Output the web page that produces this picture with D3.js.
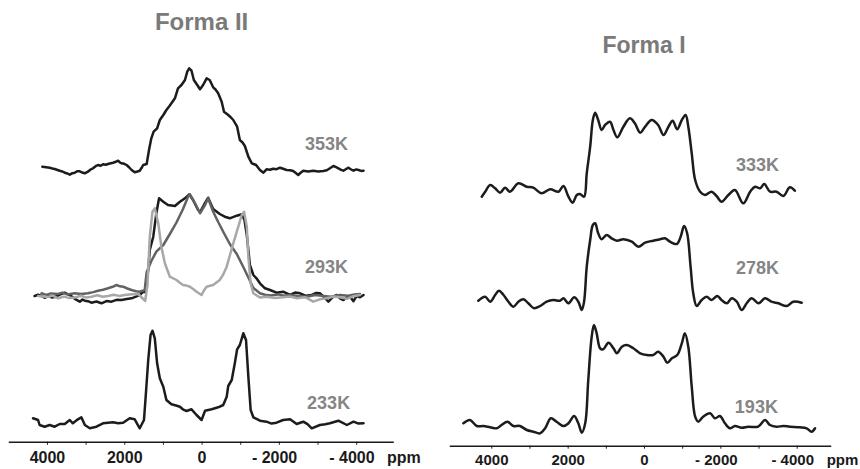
<!DOCTYPE html>
<html>
<head>
<meta charset="utf-8">
<script src="https://cdn.jsdelivr.net/npm/d3@7"></script>
<style>
  html, body { margin: 0; padding: 0; background: #fff; }
  svg { display: block; font-family: "Liberation Sans", Arial, Helvetica, sans-serif; }
</style>
</head>
<body>
<svg id="chart" width="860" height="469"></svg>
<script>
// Chemical-shift axis (ppm): minor ticks every 1000, labels every 2000
const tickPpm = [4000, 3000, 2000, 1000, 0, -1000, -2000, -3000, -4000];
const labelPpm = [4000, 2000, 0, -2000, -4000];
const axisUnit = "ppm";

const panelTitles = ["Forma II", "Forma I"];
const formaIITemps = ["353K", "293K", "233K"];
const formaITemps = ["333K", "278K", "193K"];

// Forma II spectra: [ppm, intensity]
const formaII_353K = [[4120,5.3],[4020,4.8],[3930,4.3],[3860,3.5],[3800,3],[3670,1.3],[3600,0.5],[3540,-0.7],[3470,-1.5],[3410,-2.7],[3340,-1.2],[3280,-0.7],[3220,0.8],[3150,0.7],[3090,-0.5],[3020,-1.3],[2940,0.3],[2870,2.5],[2810,3.7],[2740,5.8],[2680,7],[2610,6.3],[2550,7.7],[2480,7.2],[2420,8],[2350,8.8],[2290,9.3],[2220,10.2],[2160,11.3],[2110,9.5],[2070,8.7],[2000,8.2],[1940,7],[1870,4.5],[1810,2],[1730,-0.3],[1660,0.5],[1600,1.3],[1550,4.2],[1510,7],[1420,8],[1360,22],[1300,33.7],[1240,40.3],[1150,43.7],[1080,52],[990,57],[910,62],[840,65.5],[780,68.7],[690,73.7],[610,83.7],[520,87],[430,92],[370,100.3],[320,103.7],[260,101.3],[200,92],[130,88],[40,82.7],[-40,87],[-130,93.7],[-210,92],[-300,84.7],[-360,82.5],[-430,78.7],[-520,70.3],[-580,60.3],[-690,57],[-760,54.5],[-820,52],[-920,45.3],[-990,32],[-1060,29.5],[-1120,26],[-1210,15.3],[-1300,8.7],[-1410,7],[-1460,4.5],[-1510,2],[-1600,-0.7],[-1680,2.7],[-1770,2.2],[-1850,3.3],[-1940,2.8],[-2030,4.3],[-2110,3.2],[-2200,2],[-2290,1.8],[-2370,1],[-2430,-0.8],[-2500,-3],[-2570,-0.5],[-2630,1.3],[-2760,0.6],[-2890,1.3],[-3020,0.5],[-3150,1],[-3240,1.8],[-3320,3.7],[-3410,6],[-3480,4.8],[-3540,3.7],[-3610,2.2],[-3670,1.3],[-3740,3],[-3800,4.3],[-3870,2.5],[-3930,1.3],[-4000,2.6],[-4060,2],[-4130,1.1],[-4190,1.3]];

const formaII_293K_black = [[4320,0],[4230,1.2],[4140,0],[4050,-1.8],[3960,0.6],[3880,-1.4],[3800,-1],[3680,1.2],[3540,3.3],[3480,2.1],[3410,1],[3280,-2.8],[3150,-5.7],[3080,-3.6],[3020,-4.7],[2940,-5.2],[2850,-6.7],[2720,-5.5],[2590,-7.3],[2460,-5.1],[2330,-5.7],[2200,-3.8],[2070,-4],[1940,-3.1],[1810,-2.3],[1700,-0.6],[1600,1],[1510,4.3],[1470,4],[1380,26],[1340,46],[1250,59.3],[1170,82.7],[1100,97.7],[990,94.3],[870,91],[690,90],[560,94.3],[430,97.7],[320,101.7],[220,96],[90,86],[40,84],[-60,91],[-170,98.3],[-300,87],[-470,82],[-600,79.3],[-730,77.7],[-910,80.3],[-1040,81.7],[-1110,76],[-1170,61],[-1210,46],[-1250,31],[-1340,21],[-1420,17.7],[-1510,12.7],[-1640,7.7],[-1770,6],[-1940,3.3],[-2110,4.3],[-2290,1],[-2420,3.4],[-2550,2.7],[-2700,0.2],[-2850,1],[-2960,3.1],[-3060,2.7],[-3180,-1.5],[-3280,-5.7],[-3400,-0.8],[-3500,1],[-3590,-2.6],[-3670,-4],[-3760,-1.2],[-3840,-0.7],[-3930,-5.2],[-4010,0],[-4100,-1.3],[-4190,1]];

const formaII_293K_dark = [[4140,2.7],[4020,1.1],[3900,2.6],[3720,2],[3600,3.4],[3480,1.6],[3280,2.7],[3120,1.9],[2940,2.7],[2800,3.9],[2680,5.3],[2550,6.2],[2420,7.7],[2300,9.2],[2200,11],[2110,9.7],[2030,9.3],[1920,7.5],[1810,6],[1700,4.8],[1600,4.3],[1470,6],[1420,24],[1300,35],[1170,44.3],[990,51],[820,62],[650,73.5],[480,87],[350,99.3],[300,101.7],[170,92.7],[40,82.7],[-90,91],[-170,97.7],[-300,84.3],[-430,74],[-560,64.3],[-730,52],[-910,42],[-1080,29],[-1210,18.5],[-1340,8],[-1510,2.7],[-1640,1.3],[-1770,0.5],[-1980,1.6],[-2130,0.2],[-2290,1],[-2500,0.1],[-2720,-0.7],[-2940,0.9],[-3150,0],[-3360,-0.8],[-3580,1],[-3800,0.3],[-3950,1.4],[-4100,2]];

const formaII_293K_light = [[4230,0],[4110,-0.4],[3980,-1],[3850,0.4],[3710,-2.3],[3560,-0.6],[3420,-2.1],[3280,-1.5],[3120,0.3],[2980,-1.6],[2850,-0.7],[2700,0.8],[2560,-0.8],[2420,0],[2280,1.3],[2130,0.1],[1990,1],[1800,1.8],[1640,2],[1510,-3],[1460,-5],[1400,11],[1340,59.3],[1270,84.3],[1210,87.7],[1120,72.7],[1040,49.3],[950,32.7],[820,19.3],[650,16],[560,13.2],[480,11],[390,10.4],[300,9.3],[210,6.8],[130,4.3],[0,1],[-60,5.5],[-130,9.3],[-220,10.2],[-300,11],[-470,16],[-560,21.5],[-650,29.3],[-820,52.7],[-950,69.3],[-1040,81],[-1100,84.3],[-1170,69.3],[-1210,39.3],[-1270,12.7],[-1340,2.7],[-1510,-1.5],[-1680,-0.7],[-1900,-2.1],[-2110,-1.3],[-2290,-0.6],[-2460,-2.3],[-2680,-1.2],[-2890,-5.7],[-3060,-3.3],[-3240,-2.3],[-3420,-0.6],[-3580,-1.3],[-3760,-2.8],[-3930,-0.2],[-4100,1]];

const formaII_233K = [[4360,4.7],[4230,3],[4190,-2],[4060,-3.7],[3930,-2],[3800,-3.7],[3670,-1],[3540,-1],[3410,3],[3330,-0.3],[3200,3.7],[3110,5.7],[3020,-2],[2890,-5.3],[2720,-3.7],[2550,-0.3],[2420,0.2],[2290,0.7],[2160,-0.2],[2030,0.3],[1860,4.7],[1730,3.7],[1600,-5.3],[1490,3],[1440,29.7],[1380,63],[1320,88],[1270,92.3],[1210,84.7],[1150,59.7],[1080,44.7],[990,36.3],[910,23],[780,18.7],[660,17.5],[560,16.3],[470,13.3],[390,12],[260,13.7],[130,8],[0,3],[-90,12.3],[-260,13.7],[-430,15.7],[-560,18],[-650,26.3],[-690,37],[-780,43],[-860,59.7],[-920,73.7],[-990,78],[-1080,89.7],[-1150,83],[-1210,46.3],[-1270,13],[-1340,5.7],[-1510,2.3],[-1680,1.3],[-1810,-0.6],[-1940,0.3],[-2110,3],[-2290,3.7],[-2460,-1],[-2630,1.3],[-2740,-1.2],[-2850,-5.3],[-3060,-2],[-3200,-1.2],[-3320,-0.3],[-3540,2.3],[-3760,-2],[-3930,1.3],[-4060,-0.6],[-4190,-0.3]];

// Forma I spectra: [ppm, intensity]
const formaI_333K = [[4250,-4.7],[4160,0.3],[4030,7],[3900,3.7],[3770,-0.7],[3640,4.3],[3510,0.3],[3290,8.7],[3070,5.3],[2900,4.3],[2680,-1.3],[2460,2.7],[2240,0.3],[2110,6],[1980,-4.7],[1870,-10.7],[1760,-3],[1680,-2],[1570,-4.7],[1500,18.7],[1410,45.3],[1340,72],[1280,79.3],[1200,72],[1110,62],[1020,67],[890,70.3],[800,62],[700,54.7],[540,65.3],[370,73.7],[240,68.7],[100,59.3],[-30,65.3],[-200,72],[-370,67],[-510,57],[-640,65.3],[-750,71.3],[-870,62.7],[-990,72],[-1090,77],[-1160,65.3],[-1250,38.7],[-1340,12],[-1470,0.3],[-1600,-3],[-1770,0.3],[-1900,-4],[-2030,-9.7],[-2210,-3],[-2380,2],[-2600,-11.3],[-2780,0.3],[-2910,5.3],[-3040,3.7],[-3150,8],[-3300,0.3],[-3470,0.3],[-3650,-4],[-3820,4.7],[-3950,1.3]];

const formaI_278K = [[4340,-0.7],[4160,3.3],[4030,-1.7],[3900,5],[3800,9.3],[3680,5],[3550,-1.7],[3420,-6.7],[3290,-1.7],[3160,0.7],[3030,-3.3],[2880,-8.3],[2720,-6],[2550,-1.7],[2370,0],[2200,-0.7],[2110,1.7],[1980,-3.3],[1830,2.7],[1720,-1.7],[1630,-10],[1570,-1.7],[1500,33.3],[1410,60],[1340,75],[1280,76.7],[1200,66.7],[1110,60.7],[980,65],[850,61.7],[710,59.3],[540,60.7],[320,58.3],[150,53.3],[-30,57.3],[-240,59.3],[-420,60.7],[-550,61.7],[-680,58.3],[-860,56],[-960,63.3],[-1050,74],[-1130,66.7],[-1220,33.3],[-1290,6.7],[-1380,-6],[-1510,0],[-1640,3.3],[-1770,0],[-1920,4],[-2030,0],[-2170,-3.3],[-2300,1.7],[-2430,-1.7],[-2560,-10],[-2690,-3.3],[-2820,1.7],[-3000,-3.3],[-3170,1.7],[-3340,-1.7],[-3520,-3.3],[-3740,-6],[-3910,-1.7],[-4130,-2.7]];

const formaI_193K = [[4730,3.7],[4560,7],[4380,1],[4210,1],[4030,-0.3],[3860,-1.3],[3730,2],[3580,5.3],[3420,1],[3250,1],[3070,-3],[2900,-4.7],[2720,-6.3],[2590,-1.3],[2440,8.7],[2290,5.3],[2110,1],[1980,3.7],[1830,11],[1720,3.7],[1630,-5.7],[1540,3.7],[1460,47],[1370,90.3],[1310,102],[1240,93.7],[1150,78.7],[1070,77.7],[930,84.3],[800,78.7],[710,73.7],[580,80.3],[450,82],[280,78.7],[100,73.7],[-70,72],[-240,72],[-370,75.3],[-510,70.3],[-610,64.3],[-730,68.7],[-870,72],[-990,83.7],[-1070,93.7],[-1160,80.3],[-1250,40.3],[-1340,10.3],[-1420,5.3],[-1550,10.3],[-1730,13.7],[-1860,8.7],[-1990,11],[-2120,3.7],[-2250,-1.3],[-2380,1],[-2560,-0.7],[-2730,0.3],[-2990,0.3],[-3170,7],[-3300,2],[-3470,0.3],[-3650,1],[-3820,0.3],[-4080,-0.3],[-4260,-1.3],[-4390,-4.7],[-4480,-1.3]];

const svg = d3.select("#chart");
const fontFamily = '"Liberation Sans", Arial, Helvetica, sans-serif';

function drawPanel(cfg) {
  const g = svg.append("g");
  const x = d3.scaleLinear().domain(cfg.xDomain).range(cfg.xRange);
  // stacked intensity: each spectrum sits on its own offset
  const y = d3.scaleLinear().domain([0, 430]).range([cfg.axisY, cfg.axisY - 430]);

  cfg.traces.forEach(t => {
    const line = d3.line()
      .x(d => x(d[0]))
      .y(d => y(d[1] + t.offset))
      .curve(cfg.curve);
    g.append("path")
      .datum(t.data)
      .attr("d", line)
      .attr("fill", "none")
      .attr("stroke", t.color)
      .attr("stroke-width", cfg.strokeWidth)
      .attr("stroke-linejoin", "round")
      .attr("stroke-linecap", "round");
  });

  // temperature labels
  cfg.labels.forEach(l => {
    g.append("text")
      .attr("x", x(l.ppm))
      .attr("y", y(l.level))
      .attr("font-family", fontFamily)
      .attr("font-weight", "bold")
      .attr("font-size", 18)
      .attr("fill", "#858585")
      .text(l.text);
  });

  // panel title
  g.append("text")
    .attr("x", x(0))
    .attr("y", cfg.titleY)
    .attr("text-anchor", "middle")
    .attr("font-family", fontFamily)
    .attr("font-weight", "bold")
    .attr("font-size", cfg.titleSize)
    .attr("fill", "#7a7a7a")
    .text(cfg.title);

  // ppm axis
  const axis = d3.axisBottom(x)
    .tickValues(tickPpm)
    .tickSize(3)
    .tickSizeOuter(0)
    .tickPadding(cfg.tickPad)
    .tickFormat(v => labelPpm.includes(v) ? (v < 0 ? "- " + Math.abs(v) : String(v)) : "");
  const ax = g.append("g")
    .attr("transform", `translate(0,${cfg.axisY})`)
    .call(axis);
  ax.select(".domain").attr("stroke", "#1a1a1a").attr("stroke-width", 1.5);
  ax.selectAll(".tick line").attr("stroke", "#1a1a1a").attr("stroke-width", 1);
  ax.selectAll(".tick text")
    .attr("font-family", fontFamily)
    .attr("font-weight", "bold")
    .attr("font-size", cfg.tickSize)
    .attr("fill", "#1a1a1a")
    .attr("dx", v => v < 0 ? "-0.3em" : 0);

  const unitY = cfg.axisY + 3 + cfg.tickPad + 0.71 * cfg.tickSize;
  g.append("text")
    .attr("x", cfg.unitX)
    .attr("y", unitY)
    .attr("font-family", fontFamily)
    .attr("font-weight", "bold")
    .attr("font-size", cfg.tickSize)
    .attr("fill", "#1a1a1a")
    .text(axisUnit);
}

drawPanel({
  title: panelTitles[0], titleY: 30, titleSize: 24,
  xDomain: [5000, -4960], xRange: [8.3, 393.3],
  axisY: 441.7, tickPad: 7, tickSize: 16, unitX: 387,
  curve: d3.curveLinear, strokeWidth: 2.5,
  traces: [
    { data: formaII_353K, offset: 269.7, color: "#1c1c1c" },
    { data: formaII_293K_black, offset: 145.7, color: "#1c1c1c" },
    { data: formaII_293K_dark, offset: 145.7, color: "#626262" },
    { data: formaII_293K_light, offset: 145.7, color: "#a8a8a8" },
    { data: formaII_233K, offset: 18.7, color: "#1c1c1c" }
  ],
  labels: [
    { text: formaIITemps[0], ppm: -2675, level: 291.7 },
    { text: formaIITemps[1], ppm: -2675, level: 168.4 },
    { text: formaIITemps[2], ppm: -2730, level: 32.7 }
  ]
});

drawPanel({
  title: panelTitles[1], titleY: 53, titleSize: 23,
  xDomain: [5100, -4890], xRange: [449.3, 830.7],
  axisY: 445.7, tickPad: 5.5, tickSize: 15, unitX: 826.7,
  curve: d3.curveCatmullRom.alpha(0.5), strokeWidth: 2.5,
  traces: [
    { data: formaI_333K, offset: 253.7, color: "#1c1c1c" },
    { data: formaI_278K, offset: 145.7, color: "#1c1c1c" },
    { data: formaI_193K, offset: 18.7, color: "#1c1c1c" }
  ],
  labels: [
    { text: formaITemps[0], ppm: -2410, level: 275 },
    { text: formaITemps[1], ppm: -2410, level: 171.7 },
    { text: formaITemps[2], ppm: -2380, level: 33 }
  ]
});
</script>
</body>
</html>
